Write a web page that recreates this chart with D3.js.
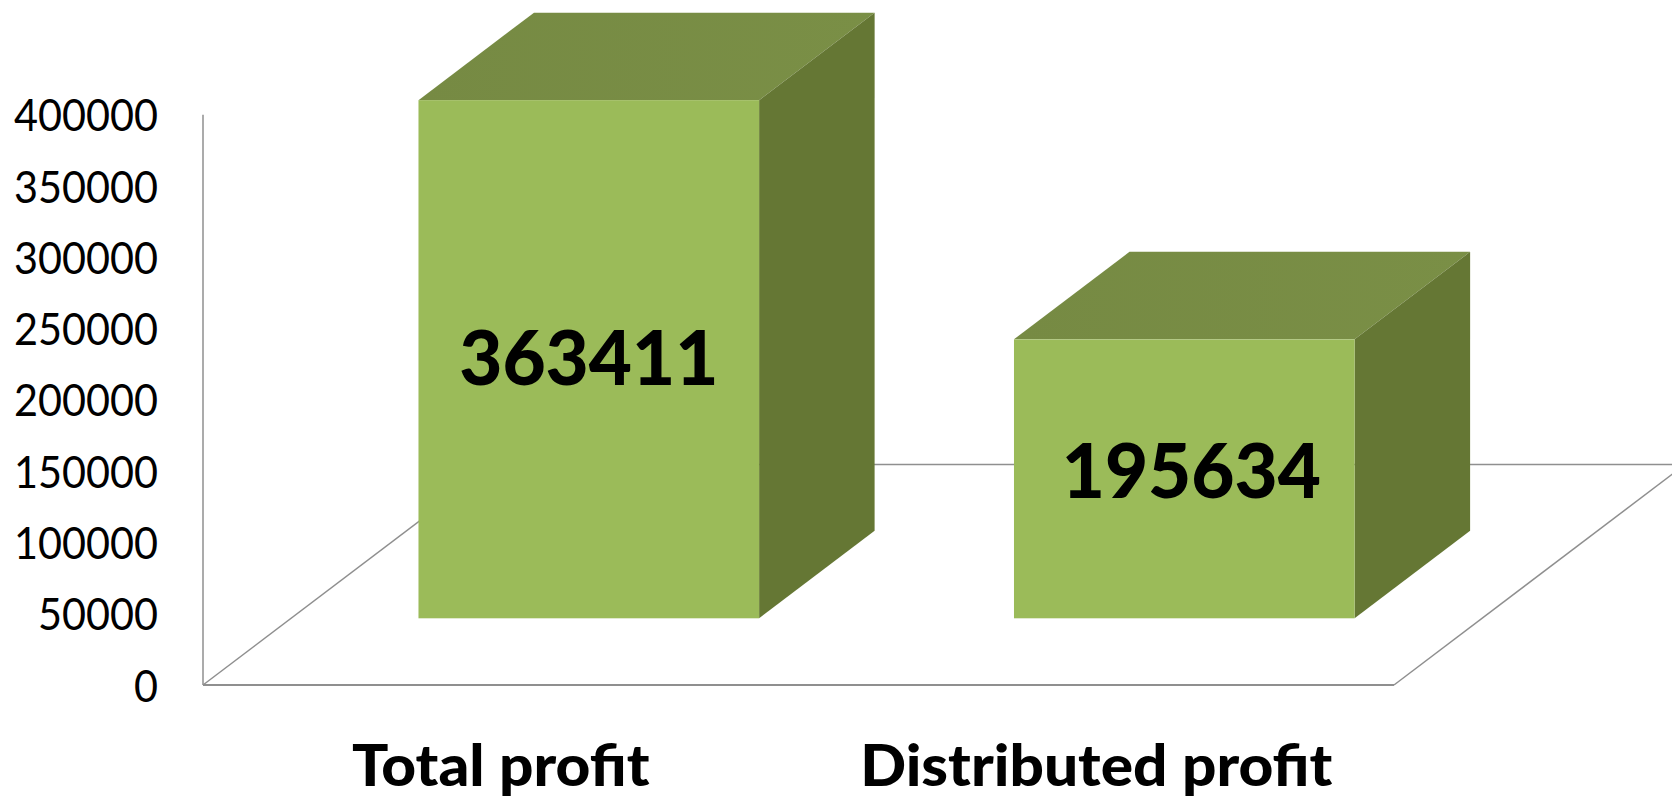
<!DOCTYPE html>
<html>
<head>
<meta charset="utf-8">
<script src="https://cdn.jsdelivr.net/npm/d3@7/dist/d3.min.js"></script>
<style>
html,body{margin:0;padding:0;background:#fff;overflow:hidden}
text{font-family:Lato,"Open Sans",sans-serif;fill:#000}
</style>
</head>
<body>
<svg id="c" width="1672" height="796"></svg>
<script>
const categories = ["Total profit", "Distributed profit"];
const profitValues = [363411, 195634];
const tickValues = [0, 50000, 100000, 150000, 200000, 250000, 300000, 350000, 400000];
const labelShiftX = [0, 7];
const labelShiftY = [-1.5, -8];

const W = 1672, H = 796;
const svg = d3.select("#c");
const x0 = 203, x1 = 1394, yBase = 685, yTop = 114.7;
const slope = 87.5 / 115.5;            // oblique direction of the depth axis
const floorDy = 220.5, floorDx = floorDy / slope;
const barOffsetDy = 66.7, barOffsetDx = barOffsetDy / slope;
const depthDy = 87.5, depthDx = 115.5;

const x = d3.scaleBand().domain(categories).range([x0, x1]).paddingInner(0.428).paddingOuter(0.214);
const y = d3.scaleLinear().domain([0, 400000]).range([yBase, yTop]);

const axisColor = "#8f8f8f";
const defs = svg.append("defs");
const topGrad = defs.append("linearGradient").attr("id", "topGrad");
topGrad.append("stop").attr("offset", "0%").attr("stop-color", "#768A43");
topGrad.append("stop").attr("offset", "100%").attr("stop-color", "#7A8F46");

// Squeeze a text horizontally to a share of its natural width
const squeeze = (sel, k) => sel.each(function () {
  d3.select(this).attr("textLength", this.getComputedTextLength() * k).attr("lengthAdjust", "spacingAndGlyphs");
});

// Floor and wall
const line = (a, b, c, d, w) => svg.append("line").attr("x1", a).attr("y1", b).attr("x2", c).attr("y2", d)
  .attr("stroke", axisColor).attr("stroke-width", w);
line(x0, yTop, x0, yBase, 1.5);
line(x0, yBase, x1, yBase, 2);
line(x0, yBase, x0 + floorDx, yBase - floorDy, 1.5);
line(x1, yBase, x1 + floorDx, yBase - floorDy, 1.5);
line(x0 + floorDx, yBase - floorDy, x1 + floorDx, yBase - floorDy, 1.5);

// Value axis
const yAxis = svg.append("g").attr("transform", `translate(${x0},0)`)
  .call(d3.axisLeft(y).tickValues(tickValues).tickFormat(d3.format("d")).tickSize(0).tickPadding(45));
yAxis.select(".domain").remove();
yAxis.selectAll("text").attr("font-size", 44.5).attr("dy", "0.36em")
  .style("font-family", "Lato,'Open Sans',sans-serif").style("fill", "#000")
  .call(squeeze, 0.93);

// Bars
const rows = categories.map((c, i) => ({c, v: profitValues[i], i}));
const poly = pts => pts.map(p => p.join(",")).join(" ");
const g = svg.append("g").selectAll("g").data(rows).join("g");
const L = d => x(d.c) + barOffsetDx, R = d => L(d) + x.bandwidth();
const B = () => yBase - barOffsetDy, T = d => y(d.v) - barOffsetDy;
g.append("polygon").attr("fill", "url(#topGrad)")
  .attr("points", d => poly([[L(d), T(d)], [R(d), T(d)], [R(d) + depthDx, T(d) - depthDy], [L(d) + depthDx, T(d) - depthDy]]));
g.append("polygon").attr("fill", "#657734")
  .attr("points", d => poly([[R(d), T(d)], [R(d) + depthDx, T(d) - depthDy], [R(d) + depthDx, B() - depthDy], [R(d), B()]]));
g.append("rect").attr("fill", "#9BBB59")
  .attr("x", L).attr("y", T).attr("width", x.bandwidth()).attr("height", d => B() - T(d));

// Data labels
g.append("text").text(d => d.v)
  .attr("text-anchor", "middle").attr("font-weight", 900).attr("font-size", 76)
  .attr("x", d => (L(d) + R(d)) / 2 + labelShiftX[d.i])
  .attr("y", d => (T(d) + B()) / 2 + labelShiftY[d.i]).attr("dy", "0.36em")
  .call(squeeze, 0.98);

// Category axis
const xAxis = svg.append("g").attr("transform", `translate(0,${yBase})`)
  .call(d3.axisBottom(x).tickSize(0));
xAxis.select(".domain").remove();
xAxis.selectAll("text").attr("y", 100.5).attr("dy", 0).attr("font-size", 57).attr("font-weight", 900)
  .style("font-family", "Lato,'Open Sans',sans-serif").style("fill", "#000")
  .call(squeeze, 1.06);
</script>
</body>
</html>
